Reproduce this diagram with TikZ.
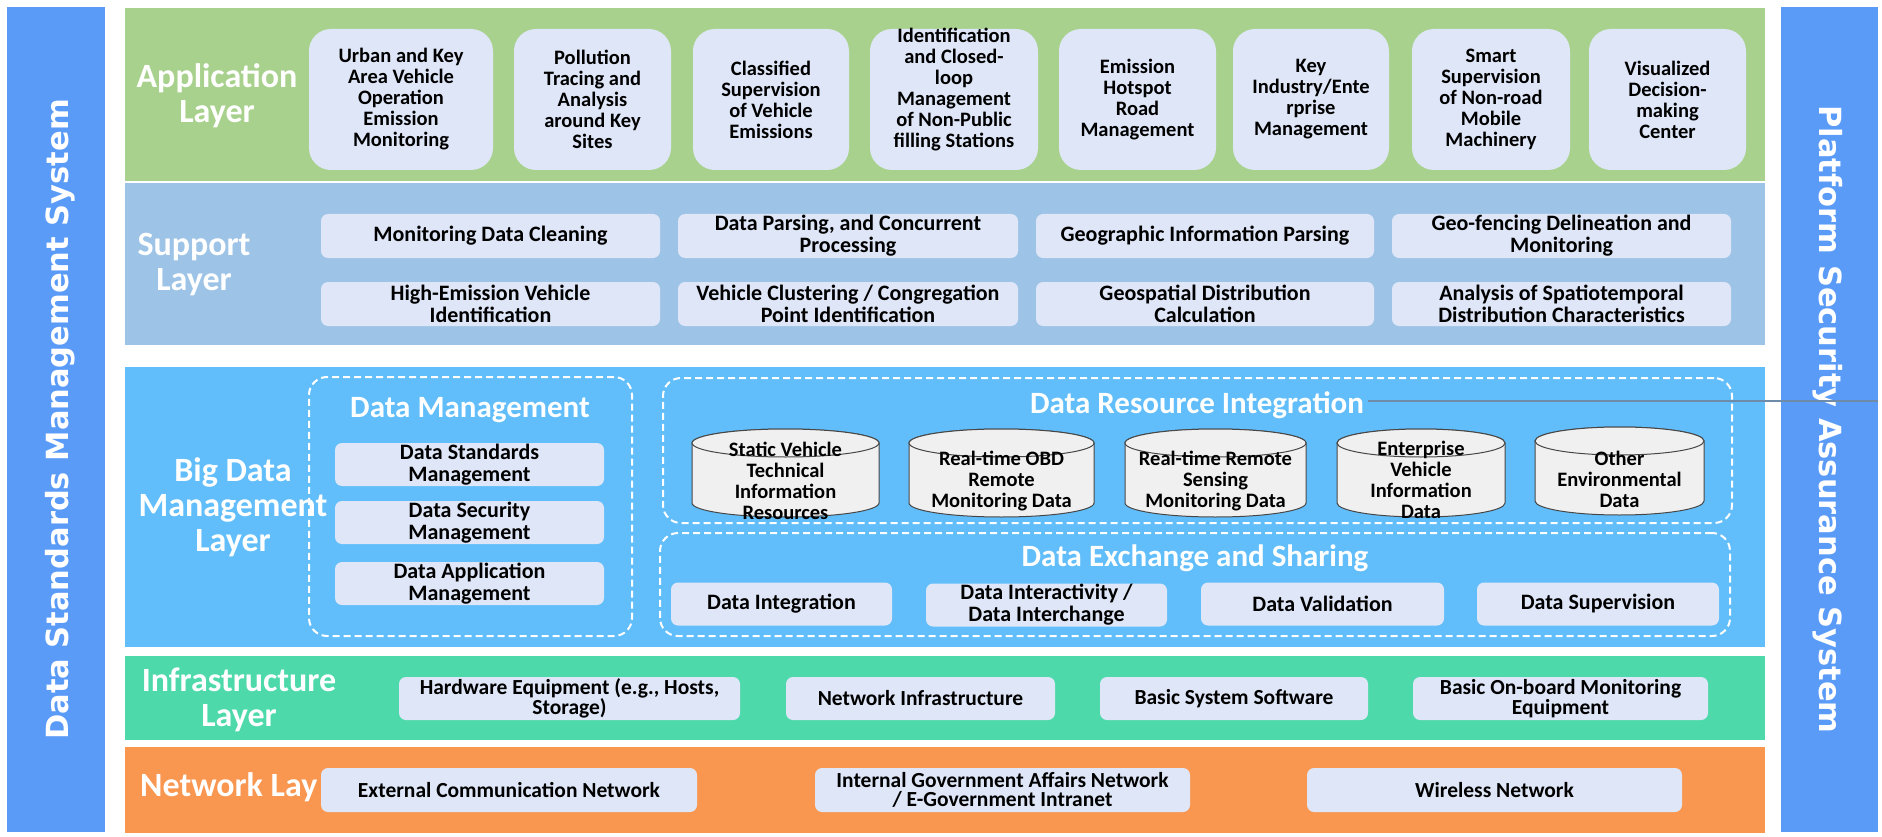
\documentclass[tikz,border=0pt]{standalone}
\usepackage{fontspec}
\setmainfont{Carlito}
\newfontfamily\sidefont{DejaVu Sans}
\usetikzlibrary{calc}
\definecolor{sidebar}{RGB}{90,155,248}
\definecolor{appgreen}{RGB}{169,209,142}
\definecolor{supblue}{RGB}{157,195,230}
\definecolor{bigblue}{RGB}{97,190,250}
\definecolor{infrateal}{RGB}{78,217,170}
\definecolor{netorange}{RGB}{249,150,80}
\definecolor{boxfill}{RGB}{222,230,247}
\definecolor{cylfill}{RGB}{240,240,240}
\definecolor{cyledge}{RGB}{70,70,70}
\definecolor{strayline}{RGB}{110,140,170}
\newcommand\mycyl[4]{%
  \filldraw[cylsty] ({#1-#2},#3) -- ({#1-#2},#4) arc[start angle=180,end angle=0,x radius=#2,y radius=14] -- ({#1+#2},#3) arc[start angle=0,end angle=-180,x radius=#2,y radius=14] -- cycle;
  \draw[cylsty] (#1,#3) ellipse[x radius=#2, y radius=14];
}
\begin{document}
\begin{tikzpicture}[x=1pt,y=-1pt,
  panel/.style={draw=none, inner sep=0pt, outer sep=0pt},
  sidetext/.style={text=white, font=\sidefont\fontsize{30.5}{32}\selectfont\bfseries, inner sep=0pt},
  lab/.style={text=white, font=\fontsize{34}{35}\selectfont\bfseries, align=center, inner sep=0pt},
  ttl/.style={text=white, font=\fontsize{31}{32}\selectfont\bfseries, inner sep=0pt},
  appbox/.style={fill=boxfill, rounded corners=22pt, minimum height=141pt, inner sep=0pt, align=center, font=\fontsize{20.5}{21}\selectfont\bfseries},
  apptxt/.style={inner sep=0pt, align=center, font=\fontsize{20.5}{21}\selectfont\bfseries},
  sbox/.style={fill=boxfill, rounded corners=7pt, minimum height=44pt, inner sep=0pt, align=center, font=\fontsize{22}{22}\selectfont\bfseries},
  ibox/.style={fill=boxfill, rounded corners=7pt, minimum height=43pt, inner sep=0pt, align=center, font=\fontsize{21.5}{19.5}\selectfont\bfseries},
  dbox/.style={draw=white, line width=2pt, dash pattern=on 7pt off 4pt, rounded corners=18pt, inner sep=0pt},
  cylsty/.style={fill=cylfill, draw=cyledge, line width=1pt},
  cyltxt/.style={inner sep=0pt, align=center, font=\fontsize{20.5}{21}\selectfont\bfseries},
  stray/.style={draw=strayline, line width=1.5pt}
]
\useasboundingbox (0,0) rectangle (1882,837);
\fill[white] (0,0) rectangle (1882,837);

% side bars
\node[panel, fill=sidebar, minimum width=98pt, minimum height=825pt] (leftbar) at (56,419.5) {};
\node[panel, fill=sidebar, minimum width=97pt, minimum height=825pt] (rightbar) at (1829.5,419.5) {};
\node[sidetext, rotate=90] (lefttext) at (60,419.5) {Data Standards Management System};
\node[sidetext, rotate=-90] (righttext) at (1828,419.5) {Platform Security Assurance System};

% layer panels
\node[panel, fill=appgreen, minimum width=1640pt, minimum height=173pt] (app) at (945,94.5) {};
\node[panel, fill=supblue, minimum width=1640pt, minimum height=162pt] (sup) at (945,264) {};
\node[panel, fill=bigblue, minimum width=1640pt, minimum height=280pt] (big) at (945,507) {};
\node[panel, fill=infrateal, minimum width=1640pt, minimum height=84pt] (infra) at (945,698) {};
\node[panel, fill=netorange, minimum width=1640pt, minimum height=86pt] (net) at (945,790) {};

% layer labels
\node[lab] (applab) at (217,96) {Application\\Layer};
\node[lab] (suplab) at (194,265) {Support\\Layer};
\node[lab] (biglab) at (233,507) {Big Data\\Management\\Layer};
\node[lab] (infralab) at (239,700) {Infrastructure\\Layer};
\node[lab, anchor=west] (netlab) at (140,787) {Network Lay};

% application boxes
\node[appbox, minimum width=184pt] (a1) at (401,99.5) {Urban and Key\\Area Vehicle\\Operation\\Emission\\Monitoring};
\node[appbox, minimum width=157pt] (a2) at (592.5,99.5) {Pollution\\Tracing and\\Analysis\\around Key\\Sites};
\node[appbox, minimum width=156pt] (a3) at (771,99.5) {Classified\\Supervision\\of Vehicle\\Emissions};
\node[appbox, minimum width=168pt] (a4) at (954,99.5) {};
\node[apptxt] (a4t) at (954,90) {Identification\\and Closed-\\loop\\Management\\of Non-Public\\filling Stations};
\node[appbox, minimum width=157pt] (a5) at (1137.5,99.5) {Emission\\Hotspot\\Road\\Management};
\node[appbox, minimum width=156pt] (a6) at (1311,99.5) {Key\\Industry/Ente\\rprise\\Management};
\node[appbox, minimum width=158pt] (a7) at (1491,99.5) {Smart\\Supervision\\of Non-road\\Mobile\\Machinery};
\node[appbox, minimum width=157pt] (a8) at (1667.5,99.5) {Visualized\\Decision-\\making\\Center};

% support boxes
\node[sbox, minimum width=339pt] (s1) at (490.5,236) {Monitoring Data Cleaning};
\node[sbox, minimum width=340pt] (s2) at (848,236) {Data Parsing, and Concurrent\\Processing};
\node[sbox, minimum width=338pt] (s3) at (1205,236) {Geographic Information Parsing};
\node[sbox, minimum width=339pt] (s4) at (1561.5,236) {Geo-fencing Delineation and\\Monitoring};
\node[sbox, minimum width=339pt] (s5) at (490.5,304) {High-Emission Vehicle\\Identification};
\node[sbox, minimum width=340pt] (s6) at (848,304) {Vehicle Clustering / Congregation\\Point Identification};
\node[sbox, minimum width=338pt] (s7) at (1205,304) {Geospatial Distribution\\Calculation};
\node[sbox, minimum width=339pt] (s8) at (1561.5,304) {Analysis of Spatiotemporal\\Distribution Characteristics};

% big data: data management
\node[dbox, minimum width=323pt, minimum height=259pt] (dm) at (470.5,506.5) {};
\node[ttl] (dmt) at (470,410) {Data Management};
\node[sbox, minimum width=269pt, minimum height=43pt] (dm1) at (469.5,464.5) {Data Standards\\Management};
\node[sbox, minimum width=269pt, minimum height=43pt] (dm2) at (469.5,522.5) {Data Security\\Management};
\node[sbox, minimum width=269pt, minimum height=43pt] (dm3) at (469.5,583.5) {Data Application\\Management};

% data resource integration
\node[dbox, minimum width=1069pt, minimum height=145pt] (dri) at (1197.5,450.5) {};
\node[ttl] (drit) at (1197,405) {Data Resource Integration};
\mycyl{785.5}{93.5}{443}{503}
\mycyl{1001.5}{92.5}{443}{503}
\mycyl{1215.5}{90.5}{443}{503}
\mycyl{1421}{84}{443}{503}
\mycyl{1619.5}{84.5}{441}{501}
\node[cyltxt] (c1) at (785.5,481) {Static Vehicle\\Technical\\Information\\Resources};
\node[cyltxt] (c2) at (1001.5,481) {Real-time OBD\\Remote\\Monitoring Data};
\node[cyltxt] (c3) at (1215.5,481) {Real-time Remote\\Sensing\\Monitoring Data};
\node[cyltxt] (c4) at (1421,480) {Enterprise\\Vehicle\\Information\\Data};
\node[cyltxt] (c5) at (1619.5,479) {Other\\Environmental\\Data};

% data exchange and sharing
\node[dbox, minimum width=1070pt, minimum height=103pt] (des) at (1195,584.5) {};
\node[ttl] (dest) at (1195,558) {Data Exchange and Sharing};
\node[sbox, minimum width=221pt, minimum height=43pt] (e1) at (781.5,604) {Data Integration};
\node[sbox, minimum width=241pt, minimum height=43pt] (e2) at (1046.5,605) {Data Interactivity /\\Data Interchange};
\node[sbox, minimum width=243pt, minimum height=43pt] (e3) at (1322.5,604) {Data Validation};
\node[sbox, minimum width=242pt, minimum height=43pt] (e4) at (1598,604) {Data Supervision};

% infrastructure boxes
\node[ibox, minimum width=341pt] (i1) at (569.5,698.5) {Hardware Equipment (e.g., Hosts,\\Storage)};
\node[ibox, minimum width=269pt] (i2) at (920.5,698.5) {Network Infrastructure};
\node[ibox, minimum width=268pt] (i3) at (1234,698.5) {Basic System Software};
\node[ibox, minimum width=295pt] (i4) at (1560.5,698.5) {Basic On-board Monitoring\\Equipment};

% network boxes
\node[ibox, minimum width=376pt, minimum height=44pt] (n1) at (509,790) {External Communication Network};
\node[ibox, minimum width=375pt, minimum height=44pt] (n2) at (1002.5,790) {Internal Government Affairs Network\\/ E-Government Intranet};
\node[ibox, minimum width=375pt, minimum height=44pt] (n3) at (1494.5,790) {Wireless Network};

% stray line
\coordinate (st1) at (1368,401);
\coordinate (st2) at (1878,401);
\draw[stray] (st1) -- (st2);
\end{tikzpicture}
\end{document}
